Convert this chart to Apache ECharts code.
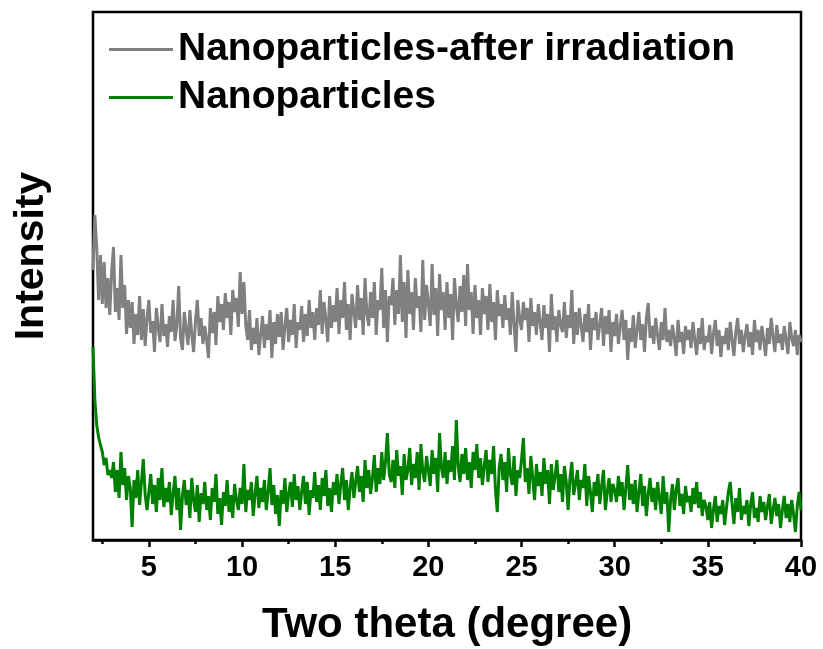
<!DOCTYPE html>
<html>
<head>
<meta charset="utf-8">
<script src="https://cdn.jsdelivr.net/npm/echarts@6/dist/echarts.min.js"></script>
<style>html,body{margin:0;padding:0;background:#fff}#c{width:823px;height:649px}</style>
</head>
<body>
<div id="c"></div>
<script>
// two-theta sampling: from 2.0 to 40.0 in steps of 0.1
const thetaStart = 2.0;
const thetaStep = 0.1;
const seriesNames = ['Nanoparticles-after irradiation', 'Nanoparticles'];
const majorTicks = [5, 10, 15, 20, 25, 30, 35, 40];
const minorTicks = [2.5, 7.5, 12.5, 17.5, 22.5, 27.5, 32.5, 37.5];

const afterIrradiation = [
270,325,293,240,285,236,278,232,262,225,
268,293,228,252,220,285,232,255,206,240,
212,238,196,226,205,244,200,231,194,222,
240,207,219,188,232,212,198,236,204,216,
193,224,208,240,199,215,254,202,190,228,
211,195,230,206,188,219,240,204,222,196,
214,200,182,232,207,228,195,244,218,236,
210,247,222,238,205,250,228,242,213,268,
226,258,215,200,230,190,212,196,222,185,
205,224,192,216,200,230,182,218,196,226,
203,228,190,214,232,198,220,205,236,192,
218,210,234,198,226,204,240,212,228,200,
232,215,250,206,238,220,198,244,212,235,
218,252,206,240,222,258,210,236,200,246,
228,212,255,220,242,205,262,226,214,248,
222,258,205,240,230,272,212,250,198,244,
235,262,215,250,226,285,218,258,202,270,
226,248,210,262,232,244,208,280,220,255,
236,214,276,225,252,204,266,230,248,210,
258,222,246,200,262,235,218,254,228,265,
214,276,230,248,206,255,222,240,205,252,
226,244,210,256,218,238,200,250,224,236,
212,245,220,232,205,248,215,188,240,222,
210,238,220,232,198,242,214,228,205,236,
218,200,235,212,226,188,246,210,224,198,
230,215,208,238,202,225,212,250,196,228,
205,232,214,198,226,208,236,190,222,210,
228,200,216,232,194,224,206,230,188,218,
204,226,196,214,230,200,220,180,212,198,
225,192,210,228,200,216,188,222,237,202,
214,196,222,205,190,218,200,232,198,210,
194,215,202,184,220,198,208,186,214,200,
210,192,218,200,185,212,196,222,190,204,
198,215,186,206,220,194,210,183,204,196,
212,190,218,200,184,208,222,196,210,188,
204,216,193,208,185,220,198,210,190,214,
200,184,212,196,222,203,188,215,197,206,
190,214,200,186,218,202,194,210,185,205,
198
];

const nanoparticles = [
193,140,115,103,95,88,75,82,65,70,
62,78,48,70,42,88,55,72,40,64,
52,13,60,42,70,35,58,81,45,30,
48,66,36,55,28,62,40,72,33,52,
38,58,25,46,64,30,52,10,44,60,
35,50,22,62,40,28,55,18,47,36,
58,30,44,20,52,38,66,26,42,15,
48,34,60,28,45,22,56,40,30,52,
36,76,28,50,40,58,24,46,64,32,
52,38,60,30,48,72,35,55,26,45,
14,50,36,62,28,46,58,33,66,40,
54,30,48,64,36,58,25,50,42,68,
38,55,30,62,44,70,34,52,28,58,
45,66,36,56,72,40,60,30,52,68,
42,58,74,48,64,38,80,52,70,46,
62,85,48,72,56,88,60,78,107,66,
58,80,52,90,64,74,45,86,60,70,
92,55,76,62,88,50,96,68,58,84,
70,54,90,66,82,48,107,72,62,88,
56,80,68,94,60,120,74,58,86,66,
92,60,78,52,88,70,96,62,82,55,
74,90,58,80,66,94,50,28,72,86,
60,78,48,92,66,55,84,44,70,62,
80,102,58,72,46,84,62,40,76,54,
68,44,82,56,70,36,76,50,64,80,
48,66,38,74,58,30,62,78,45,56,
70,40,60,52,76,34,64,48,28,58,
44,66,36,54,70,30,48,62,38,56,
50,38,64,44,58,30,52,75,40,56,
36,60,28,48,66,34,54,24,46,62,
38,52,30,58,42,26,64,36,48,8,
40,56,30,50,62,34,46,26,54,38,
44,28,52,36,58,32,48,24,40,34,
20,38,12,30,44,18,34,26,40,15,
32,48,58,36,16,42,28,52,20,34,
26,40,14,36,48,22,32,18,44,28,
38,20,34,46,16,30,42,24,36,12,
30,44,22,36,18,40,26,8,34,48,
30
];

function toPairs(vals) {
  return vals.map((v, i) => [+(thetaStart + i * thetaStep).toFixed(2), v]);
}

const FONT = '"Liberation Sans", Arial, sans-serif';
const chart = echarts.init(document.getElementById('c'), null, {renderer: 'canvas'});
chart.setOption({
  animation: false,
  backgroundColor: '#ffffff',
  grid: {left: 93, right: 22, top: 12, bottom: 109, show: true, borderColor: '#000', borderWidth: 2.5, backgroundColor: 'transparent', containLabel: false, outerBoundsMode: 'none'},
  legend: {
    orient: 'vertical', left: 104, top: 25, itemGap: 9,
    itemWidth: 64, itemHeight: 3, icon: 'rect',
    textStyle: {fontFamily: FONT, fontWeight: 'bold', fontSize: 39, color: '#000', padding: [0,0,0,0]},
    data: seriesNames
  },
  xAxis: [{
    type: 'value', min: 2, max: 40, position: 'bottom',
    axisLine: {show: true, lineStyle: {color: '#000', width: 2.5}},
    axisTick: {show: true, inside: false, length: 7, lineStyle: {color: '#000', width: 2.5}, customValues: majorTicks},
    axisLabel: {show: true, margin: 13, fontFamily: FONT, fontWeight: 'bold', fontSize: 29, color: '#000', customValues: majorTicks},
    splitLine: {show: false},
    name: 'Two theta (degree)', nameLocation: 'middle', nameGap: 64,
    nameTextStyle: {fontFamily: FONT, fontWeight: 'bold', fontSize: 42, color: '#000'}
  }, {
    type: 'value', min: 2, max: 40, position: 'bottom',
    axisLine: {show: false},
    axisTick: {show: true, inside: false, length: 4, lineStyle: {color: '#000', width: 2.5}, customValues: minorTicks},
    axisLabel: {show: false},
    splitLine: {show: false}
  }],
  yAxis: {
    type: 'value', min: 0, max: 528,
    axisLine: {show: false}, axisTick: {show: false}, axisLabel: {show: false}, splitLine: {show: false},
    name: 'Intensity', nameLocation: 'middle', nameGap: 41, nameRotate: 90,
    nameTextStyle: {fontFamily: FONT, fontWeight: 'bold', fontSize: 41, color: '#000', padding: [0, 0, 0, 40]}
  },
  series: [{
    name: seriesNames[0], type: 'line', xAxisIndex: 0, showSymbol: false, symbol: 'none',
    lineStyle: {color: '#808080', width: 3}, itemStyle: {color: '#808080'},
    data: toPairs(afterIrradiation)
  }, {
    name: seriesNames[1], type: 'line', xAxisIndex: 0, showSymbol: false, symbol: 'none',
    lineStyle: {color: '#008000', width: 3}, itemStyle: {color: '#008000'},
    data: toPairs(nanoparticles)
  }]
});
</script>
</body>
</html>
